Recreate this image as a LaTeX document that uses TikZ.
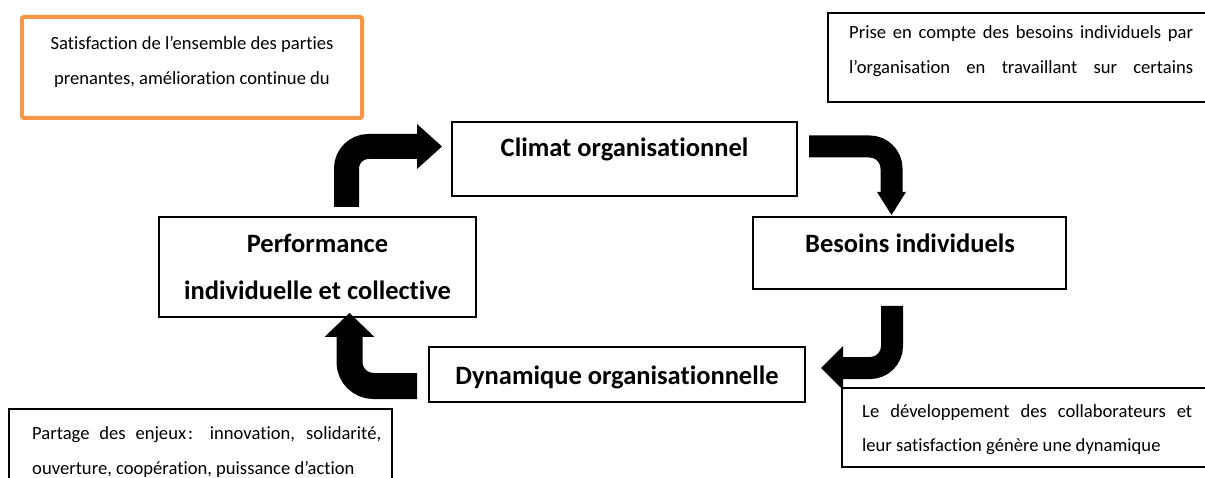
\documentclass[tikz,border=0pt]{standalone}
\usepackage{fontspec}
\setmainfont{Carlito}[Ligatures={NoCommon,NoContextual}]
\definecolor{orangeline}{RGB}{247,150,70}
\newcommand\tI{t\kern0pt i}
\begin{document}
\begin{tikzpicture}[x=1pt,y=-1pt,
  box/.style={draw=black, line width=1.1pt, fill=white, inner sep=0pt},
  orangebox/.style={draw=orangeline, line width=4pt, fill=white, inner sep=0pt, rounded corners=2pt},
  bigtxt/.style={font=\fontsize{26.5}{30}\selectfont\bfseries, anchor=base, inner sep=0pt},
  smalltxt/.style={font=\fontsize{18.6}{22}\selectfont, anchor=base west, inner sep=0pt},
  smallctr/.style={font=\fontsize{18.6}{22}\selectfont, anchor=base, inner sep=0pt},
  bendarrow/.style={draw=black, line width=24pt, rounded corners=22pt, line cap=butt},
  headtip/.style={fill=black, draw=none}]
\path[use as bounding box, clip] (0,0) rectangle (1205,478);

% boxes
\node[orangebox, minimum width=340pt, minimum height=101pt] (sat) at (192,67.5) {};
\node[box, minimum width=392pt, minimum height=89pt] (prise) at (1024,57.5) {};
\node[box, minimum width=345pt, minimum height=74pt] (climat) at (624.5,159) {};
\node[box, minimum width=313pt, minimum height=72pt] (besoins) at (909.5,253) {};
\node[box, minimum width=317pt, minimum height=100pt] (perf) at (317.5,267) {};
\node[box, minimum width=376pt, minimum height=55pt] (dyn) at (617,374.5) {};
\node[box, minimum width=383pt, minimum height=91pt] (partage) at (200.5,454.5) {};
\node[box, minimum width=378pt, minimum height=79pt] (dev) at (1031,427.5) {};

% texts
\node[smallctr] (sat1) at (192,50) {Satisfac\tI on de l’ensemble des par\tI es};
\node[smallctr] (sat2) at (192,85) {prenantes, améliora\tI on con\tI nue du};
\node[smalltxt] (prise1) at (849,39) {\makebox[344pt][s]{Prise en compte des besoins individuels par}};
\node[smalltxt] (prise2) at (849,74) {\makebox[344pt][s]{l’organisa\tI on en travaillant sur certains}};
\node[bigtxt] (climatt) at (624.5,157) {Climat organisa\tI onnel};
\node[bigtxt] (besoinst) at (910,253) {Besoins individuels};
\node[bigtxt] (perf1) at (317.5,253) {Performance};
\node[bigtxt] (perf2) at (317.5,300) {individuelle et collec\tI ve};
\node[bigtxt] (dynt) at (617,384) {Dynamique organisa\tI onnelle};
\node[smalltxt] (partage1) at (32,439) {\makebox[349pt][s]{Partage des enjeux\kern2pt: innova\tI on, solidarité,}};
\node[smalltxt] (partage2) at (32,474) {ouverture, coopéra\tI on, puissance d’ac\tI on};
\node[smalltxt] (dev1) at (862,417) {\makebox[330pt][s]{Le développement des collaborateurs et}};
\node[smalltxt] (dev2) at (862,451) {leur sa\tI sfac\tI on génère une dynamique};

% arrows
\coordinate (a1s) at (346.5,207);
\coordinate (a1e) at (418,146.5);
\draw[bendarrow, line width=25pt] (a1s) |- (a1e);
\fill[headtip] (a1e) ++(-1,-22.5) -- ++(25,22.5) -- ++(-25,22.5) -- cycle;

\coordinate (a2s) at (809,146.5);
\coordinate (a2e) at (891.5,193);
\draw[bendarrow, line width=22pt] (a2s) -| (a2e);
\fill[headtip] (a2e) ++(-14.5,-1) -- ++(29,0) -- ++(-14.5,23) -- cycle;

\coordinate (a3s) at (892,306);
\coordinate (a3e) at (842,368);
\draw[bendarrow, line width=22pt] (a3s) |- (a3e);
\fill[headtip] (a3e) ++(1,-22) -- ++(-22,22) -- ++(22,22) -- cycle;

\coordinate (a4s) at (417,386);
\coordinate (a4e) at (349.5,336);
\draw[bendarrow, line width=26pt, rounded corners=24pt] (a4s) -| (a4e);
\fill[headtip] (a4e) ++(-25,1) -- ++(25,-24) -- ++(25,24) -- cycle;
\end{tikzpicture}
\end{document}
